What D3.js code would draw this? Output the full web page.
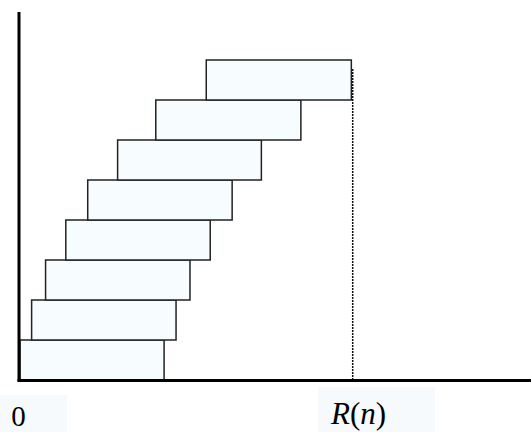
<!DOCTYPE html>
<html>
<head>
<meta charset="utf-8">
<script src="https://cdn.jsdelivr.net/npm/d3@7"></script>
<style>
  body { margin: 0; background: #fff; }
  svg { display: block; }
</style>
</head>
<body>
<div id="chart"></div>
<script>
// jobs, bottom to top: start and end time (R(n) = 100)
const jobs = ["1", "2", "3", "4", "5", "6", "7", "8"];
const starts = [0, 3.5, 7.7, 13.8, 20.4, 29.4, 40.9, 56.1];
const ends = [43.4, 47.0, 51.2, 57.3, 63.9, 72.7, 84.6, 99.8];
const rn = 100;
const tickLabels = ["0", "R(n)"];

const width = 531, height = 432;
const svg = d3.select("#chart").append("svg")
  .attr("width", width).attr("height", height);

const x = d3.scaleLinear().domain([0, rn]).range([20, 352]);
const y = d3.scaleBand().domain(jobs).range([380, 60]).paddingInner(0);

// bars
svg.selectAll("rect.job")
  .data(jobs)
  .join("rect")
  .attr("class", "job")
  .attr("x", (d, i) => x(starts[i]))
  .attr("y", d => y(d))
  .attr("width", (d, i) => x(ends[i]) - x(starts[i]))
  .attr("height", y.bandwidth())
  .attr("fill", "#f7fcfe")
  .attr("stroke", "#222")
  .attr("stroke-width", 1.5);

// dotted line at R(n)
svg.append("line")
  .attr("x1", x(rn) + 0.7).attr("x2", x(rn) + 0.7)
  .attr("y1", 69).attr("y2", 379)
  .attr("stroke", "#111")
  .attr("stroke-width", 1.5)
  .attr("stroke-dasharray", "2,1");

// axes
svg.append("line")
  .attr("x1", 19).attr("x2", 19)
  .attr("y1", 12).attr("y2", 381.5)
  .attr("stroke", "#000").attr("stroke-width", 3);
svg.append("line")
  .attr("x1", 17.5).attr("x2", width)
  .attr("y1", 380.5).attr("y2", 380.5)
  .attr("stroke", "#000").attr("stroke-width", 3);

// labels with pale boxes
svg.append("rect")
  .attr("x", 0).attr("y", 395).attr("width", 67).attr("height", 37)
  .attr("fill", "#f6fafd");
svg.append("rect")
  .attr("x", 318).attr("y", 387).attr("width", 117).attr("height", 45)
  .attr("fill", "#f6fafd");

const font = "'Liberation Serif', 'Times New Roman', serif";
svg.append("text")
  .attr("x", x(0) - 1.5).attr("y", 426)
  .attr("text-anchor", "middle")
  .attr("font-family", font)
  .attr("font-size", 29)
  .text(tickLabels[0]);

const rt = svg.append("text")
  .attr("x", 331).attr("y", 424)
  .attr("font-family", font)
  .attr("font-size", 31);
rt.append("tspan").attr("font-style", "italic").text("R");
rt.append("tspan").text("(");
rt.append("tspan").attr("font-style", "italic").text("n");
rt.append("tspan").text(")");
</script>
</body>
</html>
